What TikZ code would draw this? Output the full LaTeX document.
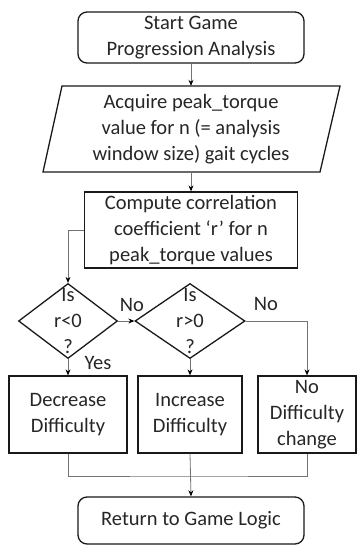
\documentclass[tikz,border=0pt]{standalone}
\usepackage{fontspec}
\setmainfont{Carlito}
\usetikzlibrary{arrows.meta,shapes.geometric}

\begin{document}
\begin{tikzpicture}[x=1pt,y=-1pt,
  every node/.style={font=\fontsize{20.5}{26}\selectfont, align=center, inner sep=0pt, text=black!85},
  boxline/.style={draw=black!90, line width=1.3pt},
  procbox/.style={boxline, rectangle, minimum height=77},
  termbox/.style={boxline, rectangle, rounded corners=9pt},
  decision/.style={boxline, diamond, minimum width=#1, minimum height=75},
  conn/.style={draw=black!55, line width=0.8pt},
  arr/.style={conn, -{Stealth[length=6pt,width=5pt,black]}},
  lbl/.style={font=\fontsize{20.5}{24}\selectfont},
]
\useasboundingbox (0,0) rectangle (358,546);

% terminals and process boxes
\node[termbox, minimum width=226, minimum height=51] (start) at (191,37.5)
  {Start Game\\Progression Analysis};

\draw[boxline] (62,86) -- (340,86) -- (320,172) -- (43,172) -- cycle;
\node[minimum width=260, minimum height=86] (acq) at (191,129)
  {Acquire peak\_torque\\value for n (= analysis\\window size) gait cycles};

\node[procbox, minimum width=213, minimum height=76] (comp) at (191,230)
  {Compute correlation\\coefficient `r' for n\\peak\_torque values};

% decisions
\node[decision=99] (d1) at (68,321) {};
\node at (d1) {Is\\r<0\\?};
\node[decision=110] (d2) at (190,321) {};
\node at (d2) {Is\\r>0\\?};

% outcome boxes
\node[procbox, minimum width=118] (dec) at (68,414.5) {Decrease\\Difficulty};
\node[procbox, minimum width=104] (inc) at (190,414.5) {Increase\\Difficulty};
\node[procbox, minimum width=98] (nod) at (307,414.5) {No\\Difficulty\\change};

\node[termbox, minimum width=226, minimum height=47] (ret) at (191,520.5)
  {Return to Game Logic};

% connectors
\draw[arr] (start) -- (acq);
\draw[arr] (acq) -- (comp);
\draw[arr] (comp.west) -| (d1.north);
\draw[arr] (d1.east) -- (d2.west);
\draw[arr] (d2.east) -| (nod.north);
\draw[arr] (d1.south) -- (dec.north);
\draw[arr] (d2.south) -- (inc.north);

\coordinate (merge) at (190,476);
\draw[conn] (dec.south) |- (merge) -| (nod.south);
\draw[arr] (inc.south) -- (ret.north);

% branch labels
\node[lbl] (no1) at (132,305) {No};
\node[lbl] (no2) at (266,304) {No};
\node[lbl] (yes) at (98,363) {Yes};
\end{tikzpicture}
\end{document}
